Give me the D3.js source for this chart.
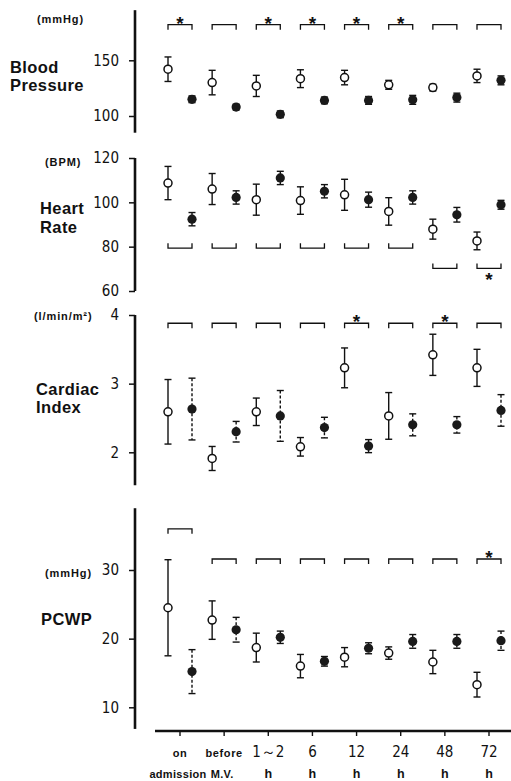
<!DOCTYPE html>
<html>
<head>
<meta charset="utf-8">
<script src="https://cdn.jsdelivr.net/npm/d3@7"></script>
<style>
  body { margin: 0; background: #fff; }
  .tick-num { font-family: "Liberation Sans Narrow", "DejaVu Sans Condensed", sans-serif; font-size: 15px; }
  .bold { font-family: "Liberation Sans", Arial, sans-serif; font-weight: bold; }
</style>
</head>
<body>
<script>
// x categories (two label rows)
const tickTop = ["on", "before", "1\uFF5E2", "6", "12", "24", "48", "72"];
const tickBottom = ["admission", "M.V.", "h", "h", "h", "h", "h", "h"];

// Blood pressure (mmHg)
const bpOpen = [142, 130, 127, 133.5, 134.5, 128, 125.5, 136];
const bpOpenSd = [11, 11, 9.5, 8, 6.5, 4, 3, 6];
const bpFilled = [115, 108, 101.5, 114, 114, 114.5, 116.5, 132];
const bpFilledSd = [3, 2.5, 3, 3, 3.5, 4, 4, 4];
const bpSig = [1, 0, 1, 1, 1, 1, 0, 0];
const bpBracket = [182, 182, 182, 182, 182, 182, 182, 182];

// Heart rate (BPM)
const hrOpen = [108.7, 106, 101.2, 100.8, 103.4, 95.9, 87.9, 82.6];
const hrOpenSd = [7.5, 7, 7, 6.2, 7, 6.2, 4.5, 4];
const hrFilled = [92.4, 102.2, 111, 105, 101.2, 102.2, 94.4, 98.9];
const hrFilledSd = [3, 3, 3, 3, 3.4, 3, 3.3, 2];
const hrSig = [0, 0, 0, 0, 0, 0, 0, 1];
const hrBracket = [79.3, 79.3, 79.3, 79.3, 79.3, 79.3, 70.2, 70.2];

// Cardiac index (l/min/m2)
const ciOpen = [2.59, 1.91, 2.59, 2.08, 3.23, 2.53, 3.42, 3.23];
const ciOpenSd = [0.47, 0.175, 0.2, 0.135, 0.29, 0.34, 0.3, 0.27];
const ciFilled = [2.63, 2.3, 2.53, 2.36, 2.09, 2.4, 2.4, 2.61];
const ciFilledSd = [0.45, 0.15, 0.37, 0.15, 0.095, 0.16, 0.12, 0.23];
const ciSig = [0, 0, 0, 0, 1, 0, 1, 0];
const ciBracket = [3.88, 3.88, 3.88, 3.88, 3.88, 3.88, 3.88, 3.88];

// PCWP (mmHg)
const pcOpen = [24.5, 22.7, 18.7, 16.0, 17.3, 17.9, 16.6, 13.3];
const pcOpenSd = [7, 2.8, 2.1, 1.7, 1.4, 0.9, 1.7, 1.8];
const pcFilled = [15.2, 21.3, 20.2, 16.7, 18.6, 19.6, 19.6, 19.7];
const pcFilledSd = [3.2, 1.8, 0.9, 0.7, 0.8, 1, 1, 1.4];
const pcSig = [0, 0, 0, 0, 0, 0, 0, 1];
const pcBracket = [36, 31.6, 31.6, 31.6, 31.6, 31.6, 31.6, 31.6];

const W = 511, H = 781;
const axisX = 135;
const offset = 12; // open / filled offset from group centre

var svg = d3.select("body").append("svg")
    .attr("width", W)
    .attr("height", H);

var x = d3.scalePoint().domain(d3.range(tickTop.length)).range([180, 489]);

// panel layout
var panels = [
  {name: ["Blood", "Pressure"], nameX: 10, nameY: [73, 91], unit: "(mmHg)", unitX: 37, unitY: 23,
   domain: [100, 150], range: [116, 60.3], ext: [85, 195], ticks: [100, 150],
   open: bpOpen, openSd: bpOpenSd, filled: bpFilled, filledSd: bpFilledSd, sig: bpSig, bracket: bpBracket,
   up: true, dashed: false},
  {name: ["Heart", "Rate"], nameX: 40, nameY: [214, 233], unit: "(BPM)", unitX: 45, unitY: 166,
   domain: [60, 120], range: [291, 158], ext: [60, 120], ticks: [60, 80, 100, 120],
   open: hrOpen, openSd: hrOpenSd, filled: hrFilled, filledSd: hrFilledSd, sig: hrSig, bracket: hrBracket,
   up: false, dashed: false},
  {name: ["Cardiac", "Index"], nameX: 36, nameY: [395, 413], unit: "(l/min/m\u00B2)", unitX: 34, unitY: 320,
   domain: [2, 4], range: [452.3, 315], ext: [1.52, 4], ticks: [2, 3, 4],
   open: ciOpen, openSd: ciOpenSd, filled: ciFilled, filledSd: ciFilledSd, sig: ciSig, bracket: ciBracket,
   up: true, dashed: true},
  {name: ["PCWP"], nameX: 41, nameY: [625], unit: "(mmHg)", unitX: 45, unitY: 577,
   domain: [10, 30], range: [707.3, 570], ext: [6.85, 39], ticks: [10, 20, 30],
   open: pcOpen, openSd: pcOpenSd, filled: pcFilled, filledSd: pcFilledSd, sig: pcSig, bracket: pcBracket,
   up: true, dashed: true}
];

function drawErrorBars(g, y, vals, sds, dx, dashed) {
  var bars = g.append("g").selectAll("g")
      .data(vals.map(function(v, i) { return {i: i, v: v, sd: sds[i]}; }))
      .enter().append("g");
  bars.append("line")
      .attr("x1", function(d) { return x(d.i) + dx; })
      .attr("x2", function(d) { return x(d.i) + dx; })
      .attr("y1", function(d) { return y(d.v + d.sd); })
      .attr("y2", function(d) { return y(d.v - d.sd); })
      .attr("stroke", "#111")
      .attr("stroke-width", 1.4)
      .attr("stroke-dasharray", dashed ? "3,2" : null);
  [1, -1].forEach(function(s) {
    bars.append("line")
        .attr("x1", function(d) { return x(d.i) + dx - 3.5; })
        .attr("x2", function(d) { return x(d.i) + dx + 3.5; })
        .attr("y1", function(d) { return y(d.v + s * d.sd); })
        .attr("y2", function(d) { return y(d.v + s * d.sd); })
        .attr("stroke", "#111")
        .attr("stroke-width", 1.4);
  });
}

panels.forEach(function(p) {
  var y = d3.scaleLinear().domain(p.domain).range(p.range);
  var g = svg.append("g");

  // y axis line
  g.append("line")
      .attr("x1", axisX).attr("x2", axisX)
      .attr("y1", y(p.ext[1])).attr("y2", y(p.ext[0]))
      .attr("stroke", "#111").attr("stroke-width", 2.6);

  var axis = d3.axisLeft(y).tickValues(p.ticks).tickFormat(d3.format("d")).tickSize(6).tickPadding(10);
  var ax = g.append("g")
      .attr("transform", "translate(" + axisX + ",0)")
      .call(axis);
  ax.select(".domain").remove();
  ax.selectAll(".tick line").attr("stroke", "#111").attr("stroke-width", 1.5);
  ax.selectAll(".tick text")
      .attr("class", "tick-num")
      .attr("fill", "#111");
  ax.attr("font-family", null).attr("font-size", null);

  // panel name
  p.name.forEach(function(t, k) {
    g.append("text").attr("class", "bold")
        .attr("x", p.nameX).attr("y", p.nameY[k])
        .attr("font-size", 16.5).attr("letter-spacing", 0.4)
        .attr("fill", "#111")
        .text(t);
  });
  g.append("text").attr("class", "bold")
      .attr("x", p.unitX).attr("y", p.unitY)
      .attr("font-size", 11).attr("letter-spacing", 0.9)
      .attr("fill", "#111")
      .text(p.unit);

  // significance brackets
  var leg = p.up ? 5 : -5;
  var br = g.append("g").selectAll("path")
      .data(p.bracket.map(function(b, i) { return {i: i, b: b, s: p.sig[i]}; }))
      .enter();
  br.append("path")
      .attr("d", function(d) {
        var x0 = x(d.i) - offset, x1 = x(d.i) + offset, yy = y(d.b);
        return "M" + x0 + "," + (yy + leg) + "V" + yy + "H" + x1 + "V" + (yy + leg);
      })
      .attr("fill", "none").attr("stroke", "#111").attr("stroke-width", 1.3);
  br.filter(function(d) { return d.s; }).append("text")
      .attr("x", function(d) { return x(d.i); })
      .attr("y", function(d) { return p.up ? y(d.b) + 5 : y(d.b) + 18; })
      .attr("text-anchor", "middle")
      .attr("font-family", "Liberation Sans, sans-serif")
      .attr("font-weight", "bold")
      .attr("font-size", 19)
      .attr("fill", "#111")
      .text("*");

  // error bars
  drawErrorBars(g, y, p.open, p.openSd, -offset, false);
  drawErrorBars(g, y, p.filled, p.filledSd, offset, p.dashed);

  // points
  g.append("g").selectAll("circle")
      .data(p.open)
      .enter().append("circle")
      .attr("cx", function(d, i) { return x(i) - offset; })
      .attr("cy", function(d) { return y(d); })
      .attr("r", 4)
      .attr("fill", "#fff").attr("stroke", "#111").attr("stroke-width", 1.5);
  g.append("g").selectAll("circle")
      .data(p.filled)
      .enter().append("circle")
      .attr("cx", function(d, i) { return x(i) + offset; })
      .attr("cy", function(d) { return y(d); })
      .attr("r", 4.6)
      .attr("fill", "#1a1a1a");
});

// bottom x axis
var xAxis = svg.append("g").attr("transform", "translate(0,731)");
xAxis.append("line")
    .attr("x1", 155).attr("x2", W)
    .attr("stroke", "#111").attr("stroke-width", 2.4);
xAxis.selectAll(".xt")
    .data(tickTop)
    .enter().append("line")
    .attr("x1", function(d, i) { return x(i); })
    .attr("x2", function(d, i) { return x(i); })
    .attr("y1", 0).attr("y2", 5)
    .attr("stroke", "#111").attr("stroke-width", 1.4);

svg.append("g").selectAll("text")
    .data(tickTop)
    .enter().append("text")
    .attr("x", function(d, i) { return x(i); })
    .attr("y", 757)
    .attr("text-anchor", "middle")
    .attr("class", function(d, i) { return i < 2 ? "bold" : "tick-num"; })
    .attr("font-size", function(d, i) { return i < 2 ? 11 : 15; })
    .attr("letter-spacing", function(d, i) { return i < 2 ? 0.6 : 0; })
    .attr("fill", "#111")
    .text(function(d) { return d; });

svg.append("g").selectAll("text")
    .data(tickBottom)
    .enter().append("text")
    .attr("x", function(d, i) { return x(i) + (i < 2 ? -2 : 0); })
    .attr("y", 778)
    .attr("text-anchor", "middle")
    .attr("class", "bold")
    .attr("font-size", function(d, i) { return i < 2 ? 11 : 12.5; })
    .attr("letter-spacing", function(d, i) { return i < 2 ? 0.3 : 0; })
    .attr("fill", "#111")
    .text(function(d) { return d; });
</script>
</body>
</html>
